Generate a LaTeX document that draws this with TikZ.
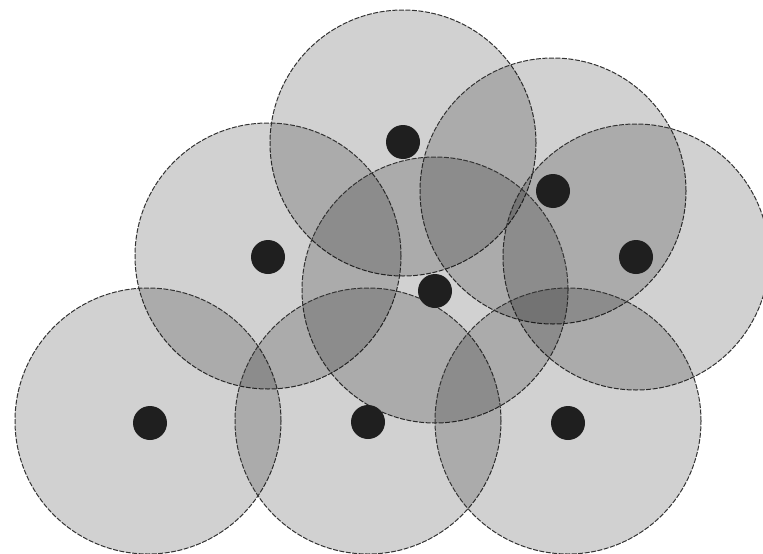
\documentclass[tikz,border=0pt]{standalone}
\begin{document}
\begin{tikzpicture}[x=1pt,y=-1pt,
  zone/.style={circle,inner sep=0pt,minimum size=266pt,fill=black,fill opacity=0.18,draw=black!80,draw opacity=1,line width=1pt,dash pattern=on 5pt off 1.5pt},
  station/.style={circle,inner sep=0pt,minimum size=34pt,fill=black!88,draw=none}]
\useasboundingbox (0,0) rectangle (763,554);
\node[zone] (z1) at (403,143) {};
\node[zone] (z2) at (553,191) {};
\node[zone] (z3) at (636,257) {};
\node[zone] (z4) at (268,256) {};
\node[zone] (z5) at (435,290) {};
\node[zone] (z6) at (148,421) {};
\node[zone] (z7) at (368,421) {};
\node[zone] (z8) at (568,421) {};
\node[station] (s1) at (403,142) {};
\node[station] (s2) at (553,191) {};
\node[station] (s3) at (636,257) {};
\node[station] (s4) at (268,257) {};
\node[station] (s5) at (435,291) {};
\node[station] (s6) at (150,423) {};
\node[station] (s7) at (368,422) {};
\node[station] (s8) at (568,423) {};
\end{tikzpicture}
\end{document}
